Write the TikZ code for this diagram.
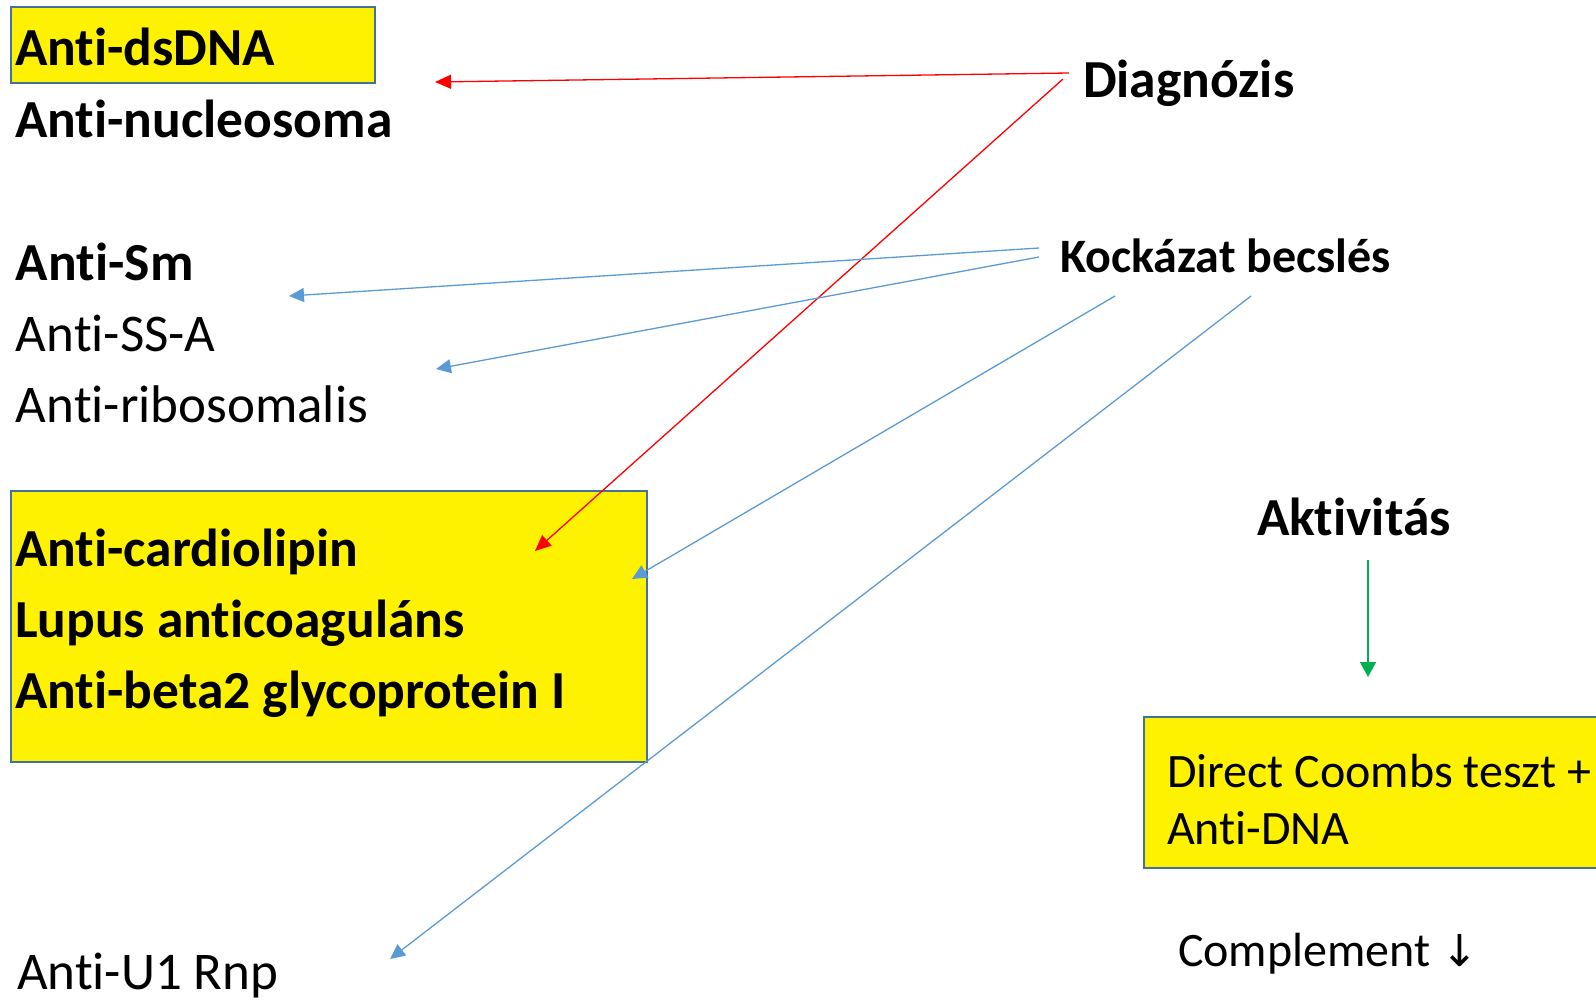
\documentclass[tikz,border=0pt]{standalone}
\usepackage{fontspec}
\setmainfont{Carlito}[Ligatures=NoCommon]
\newfontfamily\arrowfont{DejaVu Sans}
\usetikzlibrary{arrows.meta,positioning}

\definecolor{boxline}{HTML}{41719C}
\definecolor{diagred}{HTML}{FF0000}
\definecolor{riskblue}{HTML}{5B9BD5}
\definecolor{actgreen}{HTML}{00B050}

\tikzset{
  txt/.style={anchor=base west, inner sep=0pt, outer sep=0pt},
  boldtxt/.style={txt, font=\fontsize{53.5}{60}\selectfont\bfseries},
  plaintxt/.style={txt, font=\fontsize{53}{60}\selectfont},
  risktxt/.style={txt, font=\fontsize{48}{54}\selectfont\bfseries},
  smalltxt/.style={txt, font=\fontsize{48}{55}\selectfont},
  hlbox/.style={draw=boxline, line width=2pt, fill=yellow, anchor=north west, inner sep=0pt, outer sep=0pt},
  diagarrow/.style={draw=diagred, line width=1.3pt, -{Triangle[length=16pt,width=14pt]}},
  riskarrow/.style={draw=riskblue, line width=1.3pt, -{Triangle[length=15pt,width=14pt]}},
  actarrow/.style={draw=actgreen, line width=1.5pt, -{Triangle[length=15pt,width=16pt]}}
}

\begin{document}
\begin{tikzpicture}[x=1pt,y=-1pt]
  \useasboundingbox (0,0) rectangle (1596,1001);
  \clip (0,0) rectangle (1596,1001);

  \node[hlbox, minimum width=364pt, minimum height=76pt] (dsdna_box) at (11,7) {};
  \node[hlbox, minimum width=636pt, minimum height=271pt] (apl_box) at (11,491) {};
  \node[hlbox, minimum width=500pt, minimum height=151pt] (coombs_box) at (1144,717) {};

  \node[boldtxt] (dsdna) at (15,65) {Anti-dsDNA};
  \node[boldtxt] (nucl) at (15,137) {Anti-nucleosoma};
  \node[boldtxt] (sm) at (16,280) {Anti-Sm};
  \node[plaintxt] (ssa) at (16,351) {Anti-SS-A};
  \node[plaintxt] (ribo) at (16,422) {Anti-ribosomalis};
  \node[boldtxt] (cardio) at (15,566) {Anti-cardiolipin};
  \node[boldtxt] (lupus) at (15,637) {Lupus anticoaguláns};
  \node[boldtxt] (beta2) at (15,708) {Anti-beta2 glycoprotein I};
  \node[plaintxt] (u1) at (17,989) {Anti-U1 Rnp};

  \node[boldtxt] (diag) at (1083,97) {Diagnózis};
  \node[risktxt] (risk) at (1060,272) {Kockázat becslés};
  \node[boldtxt] (akt) at (1257,535) {Aktivitás};
  \node[smalltxt] (coombs) at (1167,787) {Direct Coombs teszt +};
  \node[smalltxt] (antidna) at (1167,844) {Anti-DNA};
  \node[smalltxt] (compl) at (1178,966) {Complement {\arrowfont\fontsize{44}{50}\selectfont ↓}};

  \coordinate (diag_a) at (1069,73);
  \coordinate (diag_b) at (1063,79);
  \coordinate (dsdna_in) at (435,82);
  \coordinate (apl_in) at (535,551);
  \coordinate (risk_a) at (1039,248);
  \coordinate (risk_b) at (1039,257);
  \coordinate (risk_c) at (1115,296);
  \coordinate (risk_d) at (1251,296);
  \coordinate (sm_in) at (289,296);
  \coordinate (ssa_in) at (436,369);
  \coordinate (apl_side) at (632,579);
  \coordinate (u1_in) at (390,959);
  \coordinate (akt_a) at (1368,560);
  \coordinate (akt_in) at (1368,677);

  \draw[diagarrow] (diag_a) -- (dsdna_in);
  \draw[diagarrow] (diag_b) -- (apl_in);
  \draw[riskarrow] (risk_a) -- (sm_in);
  \draw[riskarrow] (risk_b) -- (ssa_in);
  \draw[riskarrow] (risk_c) -- (apl_side);
  \draw[riskarrow] (risk_d) -- (u1_in);
  \draw[actarrow] (akt_a) -- (akt_in);

\end{tikzpicture}
\end{document}
